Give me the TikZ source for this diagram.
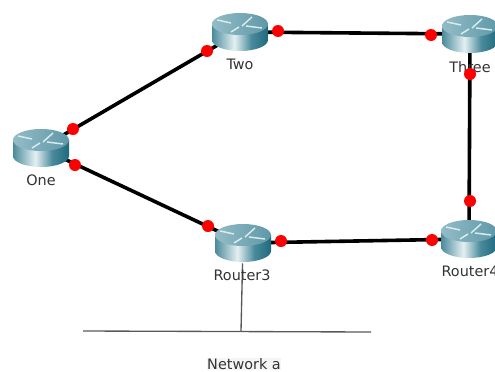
\documentclass[tikz,border=0pt]{standalone}
\usepackage{fontspec}
\setmainfont{DejaVu Sans}
\usetikzlibrary{backgrounds}
\definecolor{topleft}{HTML}{93BCC7}
\definecolor{topright}{HTML}{5F98A8}
\definecolor{bodyleft}{HTML}{4A8A9B}
\definecolor{bodymid}{HTML}{E4F0F2}
\definecolor{bodyright}{HTML}{1D6A7C}
\pgfdeclarehorizontalshading{routerbody}{100bp}{color(0bp)=(bodyleft); color(25bp)=(bodyleft);
  color(45bp)=(bodymid); color(60bp)=(bodyleft); color(75bp)=(bodyright); color(100bp)=(bodyright)}

\begin{document}
\begin{tikzpicture}[x=.75pt,y=-.75pt,
  router/.style={minimum width=42.75pt,minimum height=30pt,inner sep=0pt,path picture={
    \begin{scope}[shift={(path picture bounding box.center)}]
    \shade[shading=routerbody] (-28,-8) -- (-28,8) arc[start angle=180,end angle=0,x radius=28,y radius=11] -- (28,-8) -- cycle;
    \shade[left color=topleft,right color=topright] (0,-8) circle[x radius=28,y radius=11];
    \draw[white!85!teal,line width=1.1pt] (-23,-12) -- (-9,-9) (2,-6) -- (12,-15) (-9,0) -- (-1,-5) (6,-6) -- (22,-4);
    \end{scope}}},
  dot/.style={circle,fill=red,minimum size=9pt,inner sep=0pt},
  link/.style={line width=2.7pt,black},
  wire/.style={line width=1pt,black!65},
  caption/.style={font=\fontsize{10.8}{12}\selectfont,text=black!80}]
\useasboundingbox (0,0) rectangle (495,371);
\clip (0,0) rectangle (495,371);
\node [router] (one) at (41,148) {};
\node [router] (two) at (240,32) {};
\node [router] (three) at (470,34) {};
\node [router] (router3) at (243,243) {};
\node [router] (router4) at (469,239) {};
\node [caption] (oneLabel) at (41,180) {One};
\node [caption] (twoLabel) at (240,64) {Two};
\node [caption] (threeLabel) at (470,67) {Three};
\node [caption] (router3Label) at (242,275) {Router3};
\node [caption] (router4Label) at (470,271) {Router4};
\node [caption,fill=black!4,inner sep=.5pt] (networkLabel) at (244,364) {Network a};
\coordinate (busLeft) at (83,331);
\coordinate (busRight) at (371,332);
\coordinate (busTap) at (241,331);
\begin{scope}[on background layer]
\draw [link] (one.center) -- (two.center);
\draw [link] (two.center) -- (three.center);
\draw [link] (three.center) -- (router4.center);
\draw [link] (router4.center) -- (router3.center);
\draw [link] (router3.center) -- (one.center);
\draw [wire] (busLeft) -- (busRight);
\draw [wire] (router3) -- (busTap);
\end{scope}
\node [dot] (a) at (73,129) {};
\node [dot] (b) at (207,51) {};
\node [dot] (c) at (278,31) {};
\node [dot] (d) at (431,35) {};
\node [dot] (e) at (470,74) {};
\node [dot] (f) at (470,201) {};
\node [dot] (g) at (432,240) {};
\node [dot] (h) at (281,241) {};
\node [dot] (i) at (208,226) {};
\node [dot] (j) at (75,165) {};
\end{tikzpicture}
\end{document}
